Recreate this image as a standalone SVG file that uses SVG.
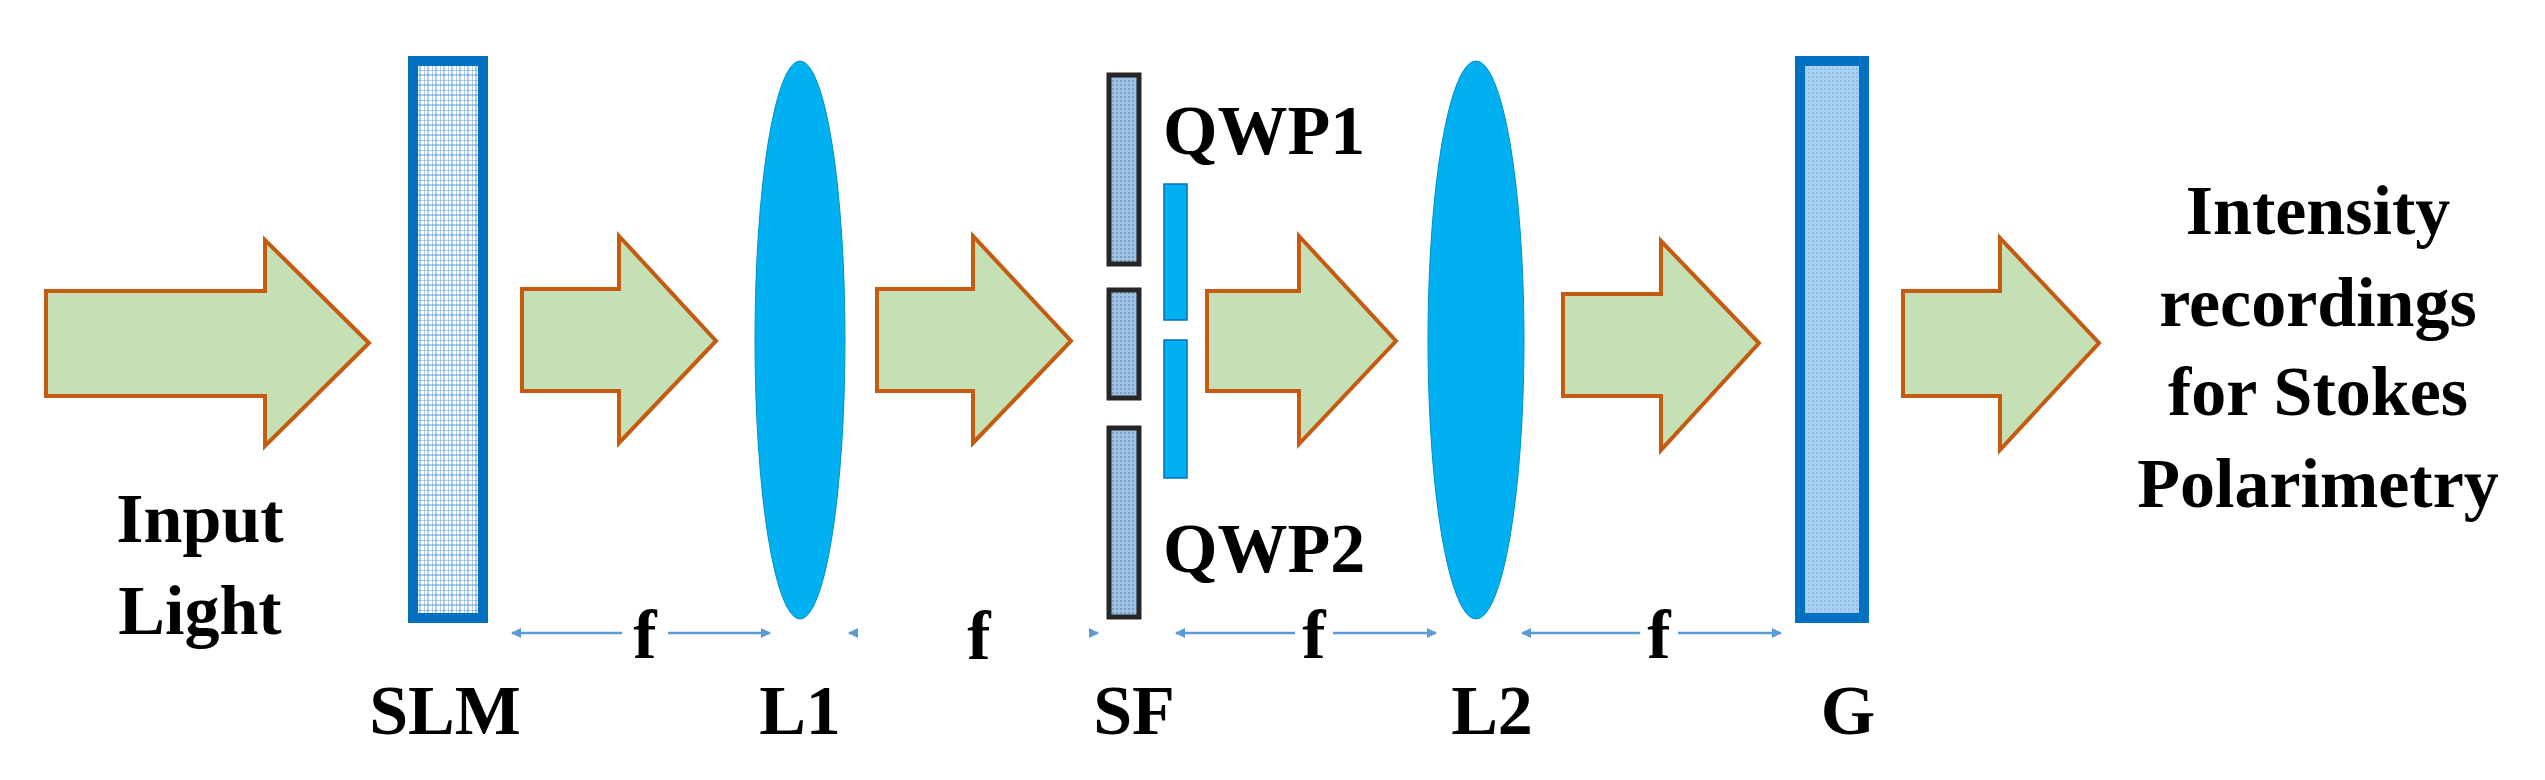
<svg xmlns="http://www.w3.org/2000/svg" width="2545" height="780" viewBox="0 0 2545 780">
<style>
.arr{fill:#c5e0b4;stroke:#c55a11;stroke-width:4}
.lens{fill:#00b0f0;stroke:#0090c8;stroke-width:1}
.qwp{fill:#00b0f0;stroke:#0070c0;stroke-width:1.5}
.sf{fill:url(#dots);stroke:#262626;stroke-width:5}
.t{font-family:"Liberation Serif",serif;font-weight:bold;font-size:70px;fill:#000}
.dim{stroke:#5b9bd5;stroke-width:2.5;fill:none}
</style>
<defs>
<pattern id="grid" width="8" height="10" patternUnits="userSpaceOnUse">
<rect width="8" height="10" fill="#fff"/>
<path d="M0 0V10M4 0V10M0 0H8M0 5H8" stroke="#5b9bd5" stroke-width="1"/>
</pattern>
<pattern id="dots" width="4" height="4" patternUnits="userSpaceOnUse">
<rect width="4" height="4" fill="#9dc3e6"/>
<rect width="2" height="2" fill="#7f9fbf"/>
</pattern>
<pattern id="gtex" width="4" height="4" patternUnits="userSpaceOnUse">
<rect width="4" height="4" fill="#a9d0f0"/>
<rect width="2" height="2" fill="#8fbfe6"/>
</pattern>
<marker id="ah" viewBox="0 0 10 10" refX="9" refY="5" markerWidth="4" markerHeight="4" orient="auto-start-reverse">
<path d="M0 0L10 5L0 10z" fill="#5b9bd5"/>
</marker>
</defs>
<g id="beams">
<path class="arr" d="M46 291H265V240L369 343L265 446V396H46Z"/>
<path class="arr" d="M522 289H619V236L716 341L619 443V391H522Z"/>
<path class="arr" d="M877 289H973V236L1071 341L973 443V391H877Z"/>
<path class="arr" d="M1207 291H1299V236L1396 341L1299 444V391H1207Z"/>
<path class="arr" d="M1563 294H1661V241L1759 343L1661 450V396H1563Z"/>
<path class="arr" d="M1903 291H2000V238L2099 343L2000 450V396H1903Z"/>
</g>
<g id="SLM">
<rect x="413" y="61" width="70" height="557" fill="url(#grid)" stroke="#0070c0" stroke-width="10"/>
</g>
<g id="L1"><ellipse class="lens" cx="800" cy="340" rx="45" ry="279"/></g>
<g id="SF">
<rect class="sf" x="1109" y="75" width="30" height="189"/>
<rect class="sf" x="1109" y="290" width="30" height="108"/>
<rect class="sf" x="1109" y="428" width="30" height="189"/>
</g>
<g id="QWP">
<rect class="qwp" x="1164" y="184" width="23" height="136"/>
<rect class="qwp" x="1164" y="340" width="23" height="138"/>
</g>
<g id="L2"><ellipse class="lens" cx="1476" cy="340" rx="48" ry="279"/></g>
<g id="G">
<rect x="1800" y="61" width="64" height="557" fill="url(#gtex)" stroke="#0070c0" stroke-width="10"/>
</g>
<g id="connectors">
<line class="dim" x1="512" y1="633" x2="622" y2="633" marker-start="url(#ah)"/>
<line class="dim" x1="668" y1="633" x2="770" y2="633" marker-end="url(#ah)"/>
<line class="dim" x1="849" y1="633" x2="852" y2="633" marker-start="url(#ah)"/>
<line class="dim" x1="1095" y1="633" x2="1098" y2="633" marker-end="url(#ah)"/>
<line class="dim" x1="1176" y1="633" x2="1295" y2="633" marker-start="url(#ah)"/>
<line class="dim" x1="1333" y1="633" x2="1436" y2="633" marker-end="url(#ah)"/>
<line class="dim" x1="1522" y1="633" x2="1640" y2="633" marker-start="url(#ah)"/>
<line class="dim" x1="1678" y1="633" x2="1781" y2="633" marker-end="url(#ah)"/>
</g>
<g id="labels" class="t">
<text x="200" y="542" text-anchor="middle">Input</text>
<text x="200" y="634" text-anchor="middle">Light</text>
<text x="1163" y="154">QWP1</text>
<text x="1163" y="572">QWP2</text>
<text x="645" y="658" text-anchor="middle">f</text>
<text x="979" y="659" text-anchor="middle">f</text>
<text x="1314" y="658" text-anchor="middle">f</text>
<text x="1659" y="658" text-anchor="middle">f</text>
<text x="445" y="734" text-anchor="middle">SLM</text>
<text x="800" y="734" text-anchor="middle">L1</text>
<text x="1134" y="734" text-anchor="middle">SF</text>
<text x="1492" y="734" text-anchor="middle">L2</text>
<text x="1848" y="734" text-anchor="middle">G</text>
<text x="2318" y="234" text-anchor="middle">Intensity</text>
<text x="2318" y="326" text-anchor="middle">recordings</text>
<text x="2318" y="415" text-anchor="middle">for Stokes</text>
<text x="2318" y="507" text-anchor="middle">Polarimetry</text>
</g>
</svg>
